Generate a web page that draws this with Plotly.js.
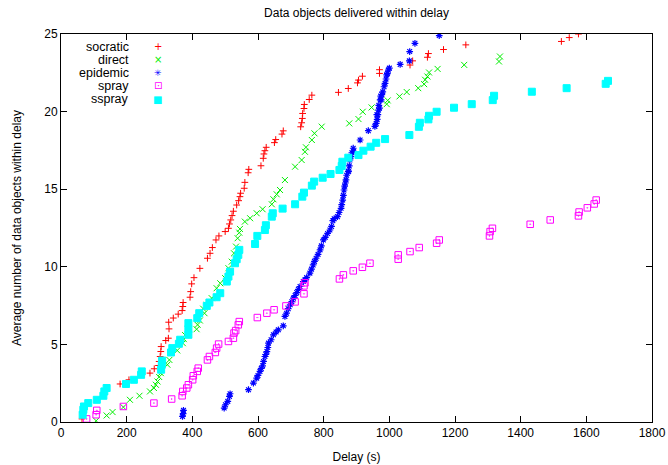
<!DOCTYPE html>
<html>
<head>
<meta charset="utf-8">
<script src="https://cdn.plot.ly/plotly-3.0.1.min.js"></script>
<style>html,body{margin:0;padding:0;background:#fff;}#chart{width:668px;height:465px;}</style>
</head>
<body>
<div id="chart"></div>
<script>
// ---- data ----
const seriesNames = ["socratic", "direct", "epidemic", "spray", "sspray"];

const socraticX = [64,180,207,271,284,297,299,302,304,305,319,327,329,328,342,357,369,371,372,393,395,398,405,423,446,454,461,472,481,500,510,513,517,521,525,535,541,545,547,558,560,570,572,609,616,618,621,625,650,654,673,677,730,733,735,736,740,741,756,764,845,875,903,906,918,970,970,1063,1071,1116,1119,1165,1233,1524,1548,1576];
const socraticY = [0.2,2.45,2.72,3.15,3.43,3.64,3.9,4.22,4.54,4.86,5.25,5.4,6.0,6.43,6.7,6.95,7.18,7.44,7.7,8.04,8.4,8.9,9.3,9.9,10.55,10.87,11.24,11.73,11.99,12.27,12.48,12.76,13.02,13.3,13.58,13.98,14.26,14.52,14.74,15.06,15.44,16.06,16.28,16.51,16.99,17.27,17.48,17.7,18.0,18.2,18.55,18.76,19.02,19.28,19.56,19.88,20.2,20.46,20.78,21.06,21.24,21.49,21.85,22.03,22.28,22.46,22.7,23.0,23.27,23.5,23.74,24.0,24.3,24.52,24.77,25.0];

const directX = [107,139,157,190,210,239,271,283,289,294,299,304,324,330,354,371,374,378,388,413,416,423,433,437,444,459,474,485,500,510,520,527,533,538,543,545,560,576,596,614,642,647,657,667,682,713,733,743,746,764,772,794,878,906,919,946,992,995,1031,1053,1088,1106,1109,1116,1121,1147,1228,1334,1337];
const directY = [0.08,0.42,0.64,0.96,1.43,1.69,1.97,2.19,2.4,2.61,2.9,3.15,3.69,4.0,4.61,5.08,5.34,5.6,5.8,5.98,6.26,6.54,7.3,7.01,7.55,7.98,8.62,8.94,9.27,9.91,10.33,10.87,11.3,11.84,12.2,12.44,12.91,13.13,13.45,13.71,14.03,14.35,14.67,14.95,15.59,16.45,16.88,17.41,17.7,18.17,18.6,19.03,19.24,19.52,19.99,20.27,20.48,20.72,20.98,21.26,21.51,21.77,22.05,22.26,22.52,22.75,23.01,23.23,23.55];

const epidemicX = [370,372,373,497,501,508,513,515,571,586,596,600,606,610,614,617,621,624,627,630,632,640,647,655,662,677,682,687,692,698,703,708,713,718,723,728,738,743,748,758,763,768,772,777,783,789,793,799,805,812,819,824,828,832,842,847,853,855,858,860,862,864,866,868,870,875,876,878,880,883,886,890,891,911,936,956,960,962,963,965,967,968,970,972,974,975,977,980,984,987,990,992,994,997,1000,1033,1061,1062,1078,1152];
const epidemicY = [0.36,0.54,0.75,0.9,1.11,1.33,1.65,1.82,2.08,2.51,2.83,3.0,3.26,3.45,3.62,3.9,4.22,4.35,4.54,4.8,5.08,5.3,5.62,5.8,5.94,6.2,6.8,7.01,7.3,7.55,7.75,7.98,8.15,8.34,8.55,8.73,9.05,9.16,9.3,9.59,9.85,10.12,10.35,10.55,10.8,11.09,11.35,11.73,11.9,12.15,12.37,12.6,12.97,13.1,13.23,13.5,13.77,14.0,14.3,14.6,14.95,15.2,15.4,15.6,15.9,16.13,16.16,16.5,16.88,17.1,17.35,17.64,17.44,18.17,18.77,19.05,19.24,19.8,19.5,19.8,20.1,20.4,20.23,20.75,21.0,20.76,21.1,21.27,21.6,21.82,22.1,22.37,22.45,22.67,22.8,23.04,23.27,23.87,24.4,24.9];

const sprayX = [78,107,109,190,283,337,369,371,383,388,401,403,415,418,446,452,470,474,480,510,525,527,532,540,543,598,627,649,685,713,740,740,743,848,860,890,918,941,1027,1027,1063,1091,1144,1152,1305,1307,1314,1429,1490,1576,1578,1603,1624,1630];
const sprayY = [0.2,0.47,0.75,1.0,1.22,1.48,1.69,1.97,2.19,2.4,2.72,2.98,3.26,3.47,4.0,4.22,4.48,4.76,5.02,5.19,5.4,5.73,5.89,6.26,6.47,6.73,7.01,7.23,7.48,7.74,8.26,8.77,8.97,9.22,9.48,9.74,9.97,10.23,10.49,10.77,10.98,11.24,11.52,11.73,11.99,12.27,12.48,12.74,13.02,13.28,13.53,13.8,14.05,14.3];

const ssprayX = [66,68,70,83,109,129,132,139,198,222,244,246,305,307,308,335,339,359,363,388,388,388,415,421,444,452,474,485,505,510,515,530,535,540,543,591,598,621,624,642,645,675,713,735,740,764,771,797,821,848,855,857,875,906,921,943,960,987,1061,1090,1093,1119,1121,1144,1197,1251,1315,1319,1434,1540,1659,1666];
const ssprayY = [0.47,0.79,1.0,1.22,1.43,1.69,1.97,2.19,2.45,2.72,3.04,3.26,3.37,3.69,3.96,4.48,4.76,5.04,5.3,5.62,5.98,6.37,6.69,7.01,7.48,7.7,8.04,8.3,9.05,9.37,9.69,10.23,10.49,10.77,11.09,11.47,11.99,12.37,12.68,13.23,13.45,13.75,14.03,14.52,14.78,15.23,15.49,15.74,15.98,16.24,16.5,16.77,17.03,17.2,17.48,17.74,17.99,18.23,18.49,19.02,19.28,19.5,19.73,19.99,20.25,20.48,20.74,21.02,21.28,21.51,21.79,21.98];

const xTickVals = [0,200,400,600,800,1000,1200,1400,1600,1800];
const yTickVals = [0,5,10,15,20,25];
const chartTitle = "Data objects delivered within delay";
const xTitle = "Delay (s)";
const yTitle = "Average number of data objects within delay";

// ---- styles ----
const FONT = "Liberation Sans, Arial, Helvetica, sans-serif";
const styles = [
  {color: "#ff0000", symbol: "cross-thin-open", size: 4.8, width: 1, glyph: "+", gsize: 10},
  {color: "#00ee00", symbol: "x-thin-open", size: 6, width: 1, glyph: "×", gsize: 10},
  {color: "#0000ff", symbol: "asterisk-open", size: 5.6, width: 1.2, glyph: "✳", gsize: 9},
  {color: "#ff00ff", symbol: "square-open-dot", size: 6.5, width: 1, glyph: "⊡", gsize: 10},
  {color: "#00ffff", symbol: "square", size: 7, width: 1, glyph: "■", gsize: 10}
];
const xs = [socraticX, directX, epidemicX, sprayX, ssprayX];
const ys = [socraticY, directY, epidemicY, sprayY, ssprayY];

const traces = seriesNames.map((name, i) => ({
  type: "scatter", mode: "markers", name: name,
  x: xs[i], y: ys[i], showlegend: false, cliponaxis: true,
  marker: {
    symbol: styles[i].symbol, size: styles[i].size,
    color: styles[i].color,
    line: {color: styles[i].color, width: styles[i].width}
  },
  hoverinfo: "x+y+name"
}));

// legend drawn gnuplot-style: label right-aligned, key symbol to its right
const legendRowsY = [0.967, 0.934, 0.900, 0.866, 0.832];
const annotations = [];
seriesNames.forEach((name, i) => {
  annotations.push({xref: "paper", yref: "paper", x: 0.119, y: legendRowsY[i],
    xanchor: "right", yanchor: "middle", showarrow: false, text: name,
    font: {family: FONT, size: 12.5, color: "#000"}});
  annotations.push({xref: "paper", yref: "paper", x: 0.1636, y: legendRowsY[i],
    xanchor: "center", yanchor: "middle", showarrow: false, text: styles[i].glyph,
    font: {family: "DejaVu Sans", size: styles[i].gsize, color: styles[i].color}});
});

const axisCommon = {
  showgrid: false, zeroline: false, showline: true, linecolor: "#000", linewidth: 1,
  mirror: "ticks", ticks: "inside", ticklen: 6, tickcolor: "#000", tickwidth: 1,
  tickfont: {family: FONT, size: 12, color: "#000"}
};

const layout = {
  width: 668, height: 465,
  paper_bgcolor: "#fff", plot_bgcolor: "#fff",
  margin: {l: 61, r: 16, t: 34, b: 43, pad: 0},
  title: {text: chartTitle, font: {family: FONT, size: 12, color: "#000"},
    xref: "paper", x: 0.5, xanchor: "center", yref: "container", y: 0.972, yanchor: "middle"},
  xaxis: Object.assign({}, axisCommon, {
    range: [0, 1800], tickvals: xTickVals, ticktext: xTickVals.map(String),
    title: {text: xTitle, font: {family: FONT, size: 12, color: "#000"}, standoff: 13}
  }),
  yaxis: Object.assign({}, axisCommon, {
    range: [0, 25], tickvals: yTickVals, ticktext: yTickVals.map(String),
    title: {text: yTitle, font: {family: FONT, size: 12, color: "#000"}, standoff: 20}
  }),
  annotations: annotations,
  showlegend: false
};

Plotly.newPlot("chart", traces, layout, {displayModeBar: false, staticPlot: true});
</script>
</body>
</html>
